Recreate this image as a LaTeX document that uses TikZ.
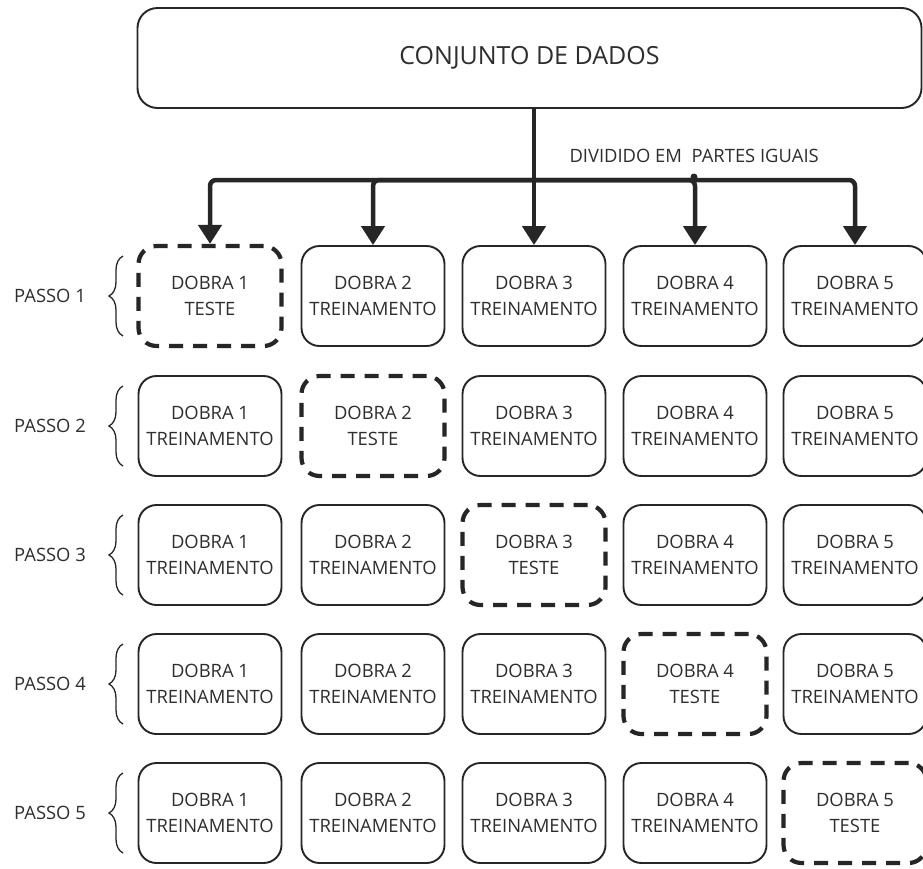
\documentclass[tikz,border=0pt]{standalone}
\usepackage{fontspec}
\setmainfont{Open Sans}
\usetikzlibrary{arrows.meta,decorations.pathreplacing}
\definecolor{linecol}{HTML}{262626}
\definecolor{textcol}{HTML}{2e2e2e}
\begin{document}
\begin{tikzpicture}[x=1pt,y=-1pt,
  txt/.style={text=textcol, font=\fontsize{18.4}{25.5}\selectfont},
  fold/.style={txt, draw=linecol, line width=1.9pt, rounded corners=18pt,
    minimum width=143pt, minimum height=100pt, align=center, inner sep=0pt},
  testfold/.style={fold, line width=4.2pt, dash pattern=on 14pt off 10pt},
  flow/.style={draw=linecol, line width=4.5pt, rounded corners=6pt,
    -{Triangle[width=23pt,length=19pt]}},
  stepbrace/.style={draw=linecol, line width=1.3pt,
    decorate, decoration={brace, amplitude=14pt}},
]
\useasboundingbox (0,0) rectangle (923,868);
\fill[white] (0,0) rectangle (923,868);

% dataset box
\node[draw=linecol, line width=1.9pt, rounded corners=20pt, minimum width=784pt,
  minimum height=100pt, inner sep=0pt, text=textcol,
  font=\fontsize{25}{30}\selectfont] (data) at (529.5,58) {CONJUNTO DE DADOS};

% fold grid: row r = step, column c = fold
\foreach \r/\y in {1/296,2/426,3/555,4/684,5/813}{
  \node[txt] (p\r) at (50,\y) {PASSO \r};
  \draw[stepbrace] (123,\y+40) -- (123,\y-40);
  \foreach \c/\x in {1/210,2/373,3/534,4/695,5/855}{
    \ifnum\r=\c
      \node[testfold] (b\r\c) at (\x,\y) {DOBRA \c\\TESTE};
    \else
      \node[fold] (b\r\c) at (\x,\y) {DOBRA \c\\TREINAMENTO};
    \fi
  }
}

% split into equal parts
\coordinate (split) at (534,180);
\draw[draw=linecol, line width=4.5pt] (data.south -| split) -- (split);
\draw[flow] (split) -| (b11.north);
\draw[flow] (split) -| (b12.north);
\draw[flow] (split) -- (b13.north);
\draw[flow] (split) -| (b14.north);
\draw[flow] (split) -| (b15.north);
\fill[linecol] (694,177) circle (3.5pt);
\node[txt, anchor=west] (splitlabel) at (566,156) {DIVIDIDO EM\ \ PARTES IGUAIS};
\end{tikzpicture}
\end{document}
